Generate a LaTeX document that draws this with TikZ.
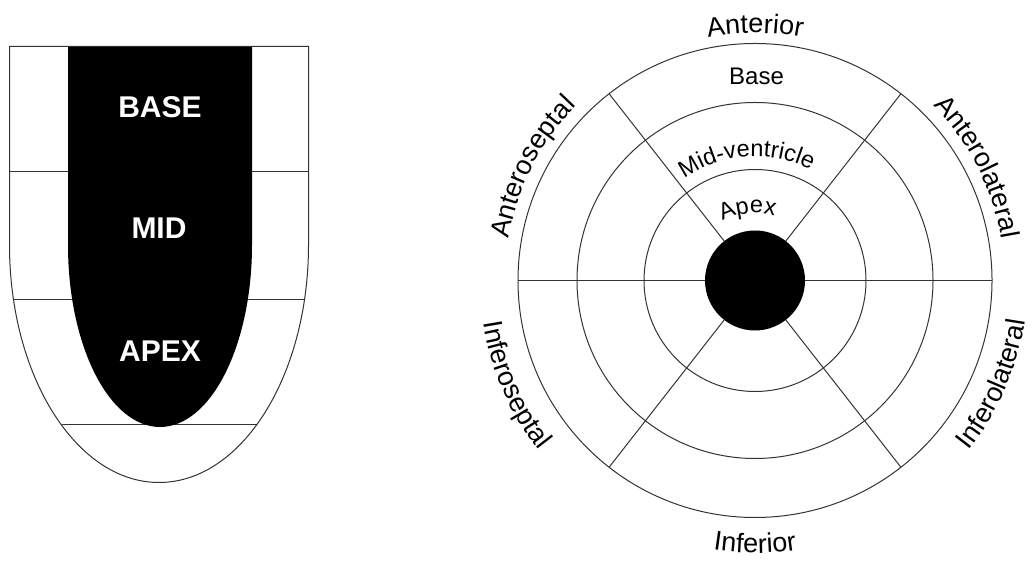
\documentclass[tikz,border=0pt]{standalone}
\usepackage{fontspec}
\setmainfont{Liberation Sans}
\setsansfont{Liberation Sans}
\usepackage{tikz}
\usetikzlibrary{decorations.text, calc}

\newcommand{\wallfont}{\fontsize{27}{27}\selectfont}
\newcommand{\levelfont}{\fontsize{23.5}{23.5}\selectfont}

\begin{document}
\begin{tikzpicture}[
    x=1pt, y=1pt,
    % Define specific styles
    ring_line/.style={draw=black!80, line width=1pt},
    cavity/.style={fill=black},
    seg_label/.style={font=\bfseries\fontsize{30}{30}\selectfont, text=white},
    curved_label/.style={decorate, decoration={text along path, text align=center, text={#1}}},
]
\useasboundingbox (0,0) rectangle (1032,561);

% Long axis view (left)
\draw[ring_line] (9.5,514.5) -- (9.5,316) arc[start angle=180, end angle=360, x radius=149.5, y radius=237.5] -- (308.5,514.5) -- cycle;
\draw[ring_line] (9.5,389) -- (308.5,389);
\draw[ring_line] (13.6,261) -- (304.4,261);
\draw[ring_line] (61.5,136) -- (256.5,136);
\fill[cavity] (68,514.5) -- (68,316) arc[start angle=180, end angle=360, x radius=92, y radius=182] -- (252,514.5) -- cycle;
\draw[ring_line] (9.5,514.5) -- (308.5,514.5);

\node[seg_label] (base) at (160,454) {BASE};
\node[seg_label] (mid) at (159,333) {MID};
\node[seg_label] (apex) at (160,210) {APEX};

% Bull's eye (right)
\coordinate (c) at (755,280.5);
\foreach \r in {237,178,111}
    \draw[ring_line] (c) circle[radius=\r];
\draw[ring_line] ([xshift=-237pt]c) -- ([xshift=237pt]c);
\foreach \a in {52,128,232,308}
    \draw[ring_line] ([shift={(\a:50)}]c) -- ([shift={(\a:237)}]c);
\fill[cavity] (c) circle[radius=50];

% Ring labels
\node[font=\fontsize{24}{24}\selectfont, anchor=base] (ringbase) at (756.5,476) {Base};
\path[curved_label={|\levelfont|Mid-ventricle}] ([shift={(144:124)}]c) arc[start angle=144, end angle=44, radius=124];
\path[curved_label={|\levelfont|Apex}] ([shift={(146:67.5)}]c) arc[start angle=146, end angle=46, radius=67.5];

% Wall labels
\path[curved_label={|\wallfont|Anterior}] ([shift={(125:247.5)}]c) arc[start angle=125, end angle=55, radius=247.5];
\path[curved_label={|\wallfont|Anteroseptal}] ([shift={(195:250)}]c) arc[start angle=195, end angle=111, radius=250];
\path[curved_label={|\wallfont|Anterolateral}] ([shift={(69:250)}]c) arc[start angle=69, end angle=-15, radius=250];
\path[curved_label={|\wallfont|Inferoseptal}] ([shift={(165:275)}]c) arc[start angle=165, end angle=242, radius=275];
\path[curved_label={|\wallfont|Inferior}] ([shift={(235:272.5)}]c) arc[start angle=235, end angle=305, radius=272.5];
\path[curved_label={|\wallfont|Inferolateral}] ([shift={(298:273)}]c) arc[start angle=298, end angle=375, radius=273];

\end{tikzpicture}
\end{document}
